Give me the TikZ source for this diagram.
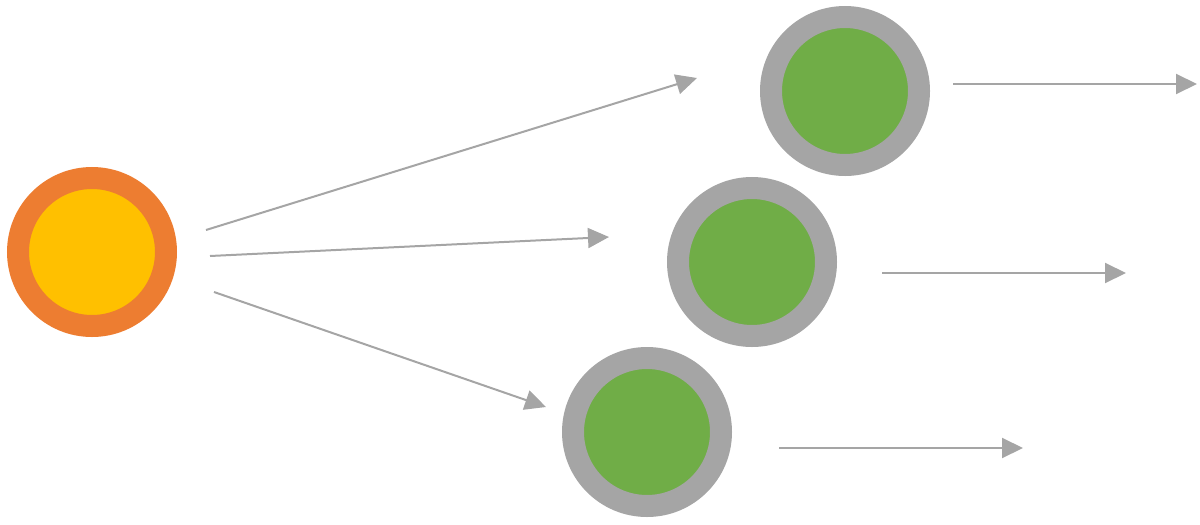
\documentclass[tikz,border=0pt]{standalone}
\usetikzlibrary{arrows.meta}
\definecolor{ringorange}{HTML}{ED7D31}
\definecolor{coreyellow}{HTML}{FFC000}
\definecolor{coregreen}{HTML}{70AD47}
\definecolor{ringgray}{HTML}{A5A5A5}
\tikzset{
  source/.style={circle, inner sep=0pt, minimum size=148pt, fill=coreyellow, draw=ringorange, line width=22pt},
  target/.style={circle, inner sep=0pt, minimum size=148pt, fill=coregreen, draw=ringgray, line width=22pt},
  flow/.style={draw=ringgray, line width=2pt, -{Triangle[length=21pt,width=20pt]}, shorten >=0pt}
}
\begin{document}
\begin{tikzpicture}[x=1pt,y=-1pt]
\useasboundingbox (0,0) rectangle (1200,525);
\node[source] (src) at (92,252) {};
\node[target] (t1) at (845,91) {};
\node[target] (t2) at (752,262) {};
\node[target] (t3) at (647,432) {};
\coordinate (s1) at (206,230);
\coordinate (s2) at (210,256);
\coordinate (s3) at (214,292);
\coordinate (e1) at (697,78);
\coordinate (e2) at (609,237);
\coordinate (e3) at (546,407);
\coordinate (o1a) at (953,84);
\coordinate (o1b) at (1197,84);
\coordinate (o2a) at (882,273);
\coordinate (o2b) at (1126,273);
\coordinate (o3a) at (779,448);
\coordinate (o3b) at (1023,448);
\draw[flow] (s1) -- (e1);
\draw[flow] (s2) -- (e2);
\draw[flow] (s3) -- (e3);
\draw[flow] (o1a) -- (o1b);
\draw[flow] (o2a) -- (o2b);
\draw[flow] (o3a) -- (o3b);
\end{tikzpicture}
\end{document}
